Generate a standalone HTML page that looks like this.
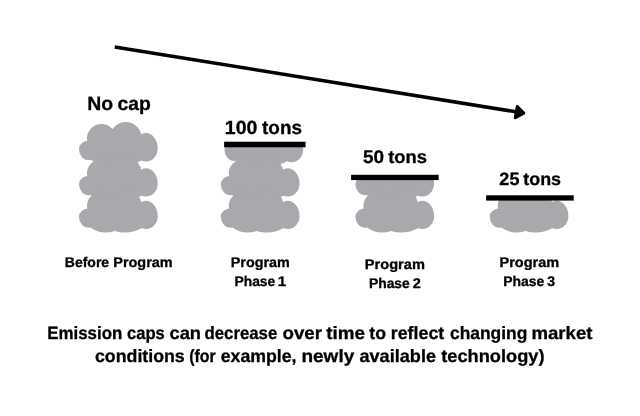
<!DOCTYPE html>
<html lang="en">
<head>
<meta charset="utf-8">
<title>Emission caps can decrease over time</title>
<style>
html,body{margin:0;padding:0;background:#fff;}
body{width:640px;height:416px;overflow:hidden;}
svg{display:block;}
</style>
</head>
<body>
<svg width="640" height="416" viewBox="0 0 640 416">
<rect width="640" height="416" fill="#fff"/>
<defs><clipPath id="kb"><rect x="200" y="144" width="140" height="120"/></clipPath><clipPath id="kc"><rect x="340" y="177" width="140" height="120"/></clipPath><clipPath id="kd"><rect x="470" y="198" width="140" height="120"/></clipPath></defs>
<g fill="#a7a9ac">
<g><path d="M87.00,138.5 a14.5,14.5 0 1 1 29.0,0 a14.5,14.5 0 1 1 -29.0,0 Z M109.70,138.1 a16,16 0 1 1 32,0 a16,16 0 1 1 -32,0 Z M134.3,148.6 A11.7,15.5 0 0 1 157.7,148.6 A11.7,12.8 0 0 1 134.3,148.6 Z M79,149.2 A9.8,8.6 0 0 1 98.6,149.2 A9.8,10.9 0 0 1 79,149.2 Z M90,159 L90,138 L142,138 L142,160.3 A36,36 0 0 1 114.6,163.4 A26,26 0 0 1 91,160.1 Z"/><path d="M87.00,138.5 a14.5,14.5 0 1 1 29.0,0 a14.5,14.5 0 1 1 -29.0,0 Z M109.70,138.1 a16,16 0 1 1 32,0 a16,16 0 1 1 -32,0 Z M134.3,148.6 A11.7,15.5 0 0 1 157.7,148.6 A11.7,12.8 0 0 1 134.3,148.6 Z M79,149.2 A9.8,8.6 0 0 1 98.6,149.2 A9.8,10.9 0 0 1 79,149.2 Z M90,159 L90,138 L142,138 L142,160.3 A36,36 0 0 1 114.6,163.4 A26,26 0 0 1 91,160.1 Z" transform="translate(0,35.1)"/><path d="M87.00,138.5 a14.5,14.5 0 1 1 29.0,0 a14.5,14.5 0 1 1 -29.0,0 Z M109.70,138.1 a16,16 0 1 1 32,0 a16,16 0 1 1 -32,0 Z M134.3,148.6 A11.7,15.5 0 0 1 157.7,148.6 A11.7,12.8 0 0 1 134.3,148.6 Z M79,149.2 A9.8,8.6 0 0 1 98.6,149.2 A9.8,10.9 0 0 1 79,149.2 Z M90,159 L90,138 L142,138 L142,160.3 A36,36 0 0 1 114.6,163.4 A26,26 0 0 1 91,160.1 Z" transform="translate(0,67.6)"/></g>
<g clip-path="url(#kb)"><path d="M87.00,138.5 a14.5,14.5 0 1 1 29.0,0 a14.5,14.5 0 1 1 -29.0,0 Z M109.70,138.1 a16,16 0 1 1 32,0 a16,16 0 1 1 -32,0 Z M134.3,148.6 A11.7,15.5 0 0 1 157.7,148.6 A11.7,12.8 0 0 1 134.3,148.6 Z M79,149.2 A9.8,8.6 0 0 1 98.6,149.2 A9.8,10.9 0 0 1 79,149.2 Z M90,159 L90,138 L142,138 L142,160.3 A36,36 0 0 1 114.6,163.4 A26,26 0 0 1 91,160.1 Z" transform="translate(145.5,0.8)"/><path d="M87.00,138.5 a14.5,14.5 0 1 1 29.0,0 a14.5,14.5 0 1 1 -29.0,0 Z M109.70,138.1 a16,16 0 1 1 32,0 a16,16 0 1 1 -32,0 Z M134.3,148.6 A11.7,15.5 0 0 1 157.7,148.6 A11.7,12.8 0 0 1 134.3,148.6 Z M79,149.2 A9.8,8.6 0 0 1 98.6,149.2 A9.8,10.9 0 0 1 79,149.2 Z M90,159 L90,138 L142,138 L142,160.3 A36,36 0 0 1 114.6,163.4 A26,26 0 0 1 91,160.1 Z" transform="translate(141.8,35.1)"/><path d="M87.00,138.5 a14.5,14.5 0 1 1 29.0,0 a14.5,14.5 0 1 1 -29.0,0 Z M109.70,138.1 a16,16 0 1 1 32,0 a16,16 0 1 1 -32,0 Z M134.3,148.6 A11.7,15.5 0 0 1 157.7,148.6 A11.7,12.8 0 0 1 134.3,148.6 Z M79,149.2 A9.8,8.6 0 0 1 98.6,149.2 A9.8,10.9 0 0 1 79,149.2 Z M90,159 L90,138 L142,138 L142,160.3 A36,36 0 0 1 114.6,163.4 A26,26 0 0 1 91,160.1 Z" transform="translate(141.8,67.6)"/></g>
<g clip-path="url(#kc)"><path d="M87.00,138.5 a14.5,14.5 0 1 1 29.0,0 a14.5,14.5 0 1 1 -29.0,0 Z M109.70,138.1 a16,16 0 1 1 32,0 a16,16 0 1 1 -32,0 Z M134.3,148.6 A11.7,15.5 0 0 1 157.7,148.6 A11.7,12.8 0 0 1 134.3,148.6 Z M79,149.2 A9.8,8.6 0 0 1 98.6,149.2 A9.8,10.9 0 0 1 79,149.2 Z M90,159 L90,138 L142,138 L142,160.3 A36,36 0 0 1 114.6,163.4 A26,26 0 0 1 91,160.1 Z" transform="translate(276.4,35.1)"/><path d="M87.00,138.5 a14.5,14.5 0 1 1 29.0,0 a14.5,14.5 0 1 1 -29.0,0 Z M109.70,138.1 a16,16 0 1 1 32,0 a16,16 0 1 1 -32,0 Z M134.3,148.6 A11.7,15.5 0 0 1 157.7,148.6 A11.7,12.8 0 0 1 134.3,148.6 Z M79,149.2 A9.8,8.6 0 0 1 98.6,149.2 A9.8,10.9 0 0 1 79,149.2 Z M90,159 L90,138 L142,138 L142,160.3 A36,36 0 0 1 114.6,163.4 A26,26 0 0 1 91,160.1 Z" transform="translate(276.4,67.6)"/></g>
<g clip-path="url(#kd)"><path d="M87.00,138.5 a14.5,14.5 0 1 1 29.0,0 a14.5,14.5 0 1 1 -29.0,0 Z M109.70,138.1 a16,16 0 1 1 32,0 a16,16 0 1 1 -32,0 Z M134.3,148.6 A11.7,15.5 0 0 1 157.7,148.6 A11.7,12.8 0 0 1 134.3,148.6 Z M79,149.2 A9.8,8.6 0 0 1 98.6,149.2 A9.8,10.9 0 0 1 79,149.2 Z M90,159 L90,138 L142,138 L142,160.3 A36,36 0 0 1 114.6,163.4 A26,26 0 0 1 91,160.1 Z" transform="translate(410.7,67.6)"/></g>
</g>
<rect x="224.1" y="141.7" width="81.5" height="5.6" fill="#000"/>
<rect x="351.1" y="174.8" width="87.5" height="5.3" fill="#000"/>
<rect x="486.1" y="195.3" width="87.6" height="5.3" fill="#000"/>
<line x1="114.7" y1="46.9" x2="516" y2="111.85" stroke="#000" stroke-width="3.5"/>
<path d="M517.3,106.6 L523.8,113.1 L515.3,117.8 Z" fill="#000" stroke="#000" stroke-width="3" stroke-linejoin="round"/>
<g font-family="'Liberation Sans', sans-serif" font-weight="bold" fill="#000" stroke="#000" stroke-linejoin="round" text-rendering="geometricPrecision">
<g font-size="19.2" stroke-width="0.3">
<text y="110"><tspan x="87.33" textLength="25.87" lengthAdjust="spacingAndGlyphs">No</tspan> <tspan x="117.58" textLength="33.29" lengthAdjust="spacingAndGlyphs">cap</tspan></text>
</g>
<g font-size="19.0" stroke-width="0.3">
<text y="134"><tspan x="224.84" textLength="32.59" lengthAdjust="spacingAndGlyphs">100</tspan> <tspan x="262.00" textLength="40.01" lengthAdjust="spacingAndGlyphs">tons</tspan></text>
</g>
<g font-size="18.2" stroke-width="0.3">
<text y="163"><tspan x="362.97" textLength="21.07" lengthAdjust="spacingAndGlyphs">50</tspan> <tspan x="388.20" textLength="38.76" lengthAdjust="spacingAndGlyphs">tons</tspan></text>
</g>
<g font-size="17.8" stroke-width="0.3">
<text y="185"><tspan x="499.38" textLength="20.04" lengthAdjust="spacingAndGlyphs">25</tspan> <tspan x="523.30" textLength="37.76" lengthAdjust="spacingAndGlyphs">tons</tspan></text>
</g>
<g font-size="14.0" stroke-width="0.3">
<text y="267"><tspan x="64.83" textLength="44.28" lengthAdjust="spacingAndGlyphs">Before</tspan> <tspan x="113.33" textLength="59.29" lengthAdjust="spacingAndGlyphs">Program</tspan></text>
<text y="267"><tspan x="230.73" textLength="59.04" lengthAdjust="spacingAndGlyphs">Program</tspan></text>
<text y="286"><tspan x="234.48" textLength="40.78" lengthAdjust="spacingAndGlyphs">Phase</tspan> <tspan x="277.87" textLength="8.42" lengthAdjust="spacingAndGlyphs">1</tspan></text>
<text y="269"><tspan x="364.83" textLength="60.04" lengthAdjust="spacingAndGlyphs">Program</tspan></text>
<text y="288"><tspan x="368.98" textLength="40.78" lengthAdjust="spacingAndGlyphs">Phase</tspan> <tspan x="412.72" textLength="8.09" lengthAdjust="spacingAndGlyphs">2</tspan></text>
<text y="267"><tspan x="499.48" textLength="59.79" lengthAdjust="spacingAndGlyphs">Program</tspan></text>
<text y="286"><tspan x="503.33" textLength="41.03" lengthAdjust="spacingAndGlyphs">Phase</tspan> <tspan x="547.23" textLength="7.79" lengthAdjust="spacingAndGlyphs">3</tspan></text>
</g>
<g font-size="17.8" stroke-width="0.3">
<text y="339"><tspan x="47.22" textLength="75.06" lengthAdjust="spacingAndGlyphs">Emission</tspan> <tspan x="126.99" textLength="37.78" lengthAdjust="spacingAndGlyphs">caps</tspan> <tspan x="169.47" textLength="31.58" lengthAdjust="spacingAndGlyphs">can</tspan> <tspan x="204.49" textLength="72.76" lengthAdjust="spacingAndGlyphs">decrease</tspan> <tspan x="282.49" textLength="39.51" lengthAdjust="spacingAndGlyphs">over</tspan> <tspan x="326.25" textLength="38.76" lengthAdjust="spacingAndGlyphs">time</tspan> <tspan x="369.25" textLength="16.77" lengthAdjust="spacingAndGlyphs">to</tspan> <tspan x="390.73" textLength="53.52" lengthAdjust="spacingAndGlyphs">reflect</tspan> <tspan x="449.99" textLength="77.28" lengthAdjust="spacingAndGlyphs">changing</tspan> <tspan x="531.48" textLength="61.02" lengthAdjust="spacingAndGlyphs">market</tspan></text>
<text y="362"><tspan x="94.99" textLength="89.76" lengthAdjust="spacingAndGlyphs">conditions</tspan> <tspan x="189.23" textLength="26.52" lengthAdjust="spacingAndGlyphs">(for</tspan> <tspan x="220.74" textLength="75.78" lengthAdjust="spacingAndGlyphs">example,</tspan> <tspan x="301.48" textLength="52.77" lengthAdjust="spacingAndGlyphs">newly</tspan> <tspan x="359.49" textLength="76.51" lengthAdjust="spacingAndGlyphs">available</tspan> <tspan x="441.25" textLength="103.26" lengthAdjust="spacingAndGlyphs">technology)</tspan></text>
</g>
</g>
</svg>
</body>
</html>
